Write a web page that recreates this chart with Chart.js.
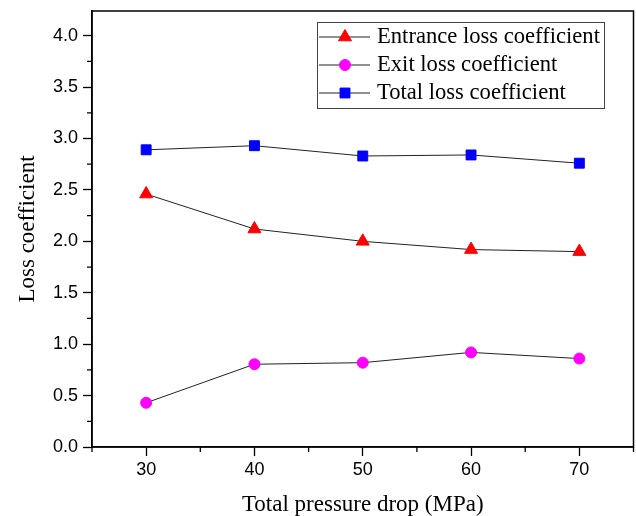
<!DOCTYPE html>
<html lang="en">
<head>
    <meta charset="UTF-8">
    <title>Loss coefficient</title>
    <script src="https://cdn.jsdelivr.net/npm/chart.js"></script>
    <style>
        html, body { margin: 0; background: #fff; overflow: hidden; }
        canvas { display: block; }
    </style>
</head>
<body>
    <!-- a little wider than the window: Chart.js keeps half of the last x label as right padding -->
    <canvas id="lossChart" width="642" height="516"></canvas>

<script>
    // data
    const pressureDrop = [30, 40, 50, 60, 70];
    const entranceLoss = [2.46, 2.12, 2.00, 1.92, 1.90];
    const exitLoss = [0.43, 0.805, 0.82, 0.92, 0.86];
    const totalLoss = [2.89, 2.93, 2.83, 2.84, 2.76];

    const xTicks = [30, 40, 50, 60, 70];
    const xMinorTicks = [25, 35, 45, 55, 65, 75];
    const yTicks = [0, 0.5, 1.0, 1.5, 2.0, 2.5, 3.0, 3.5, 4.0];
    const yMinorTicks = [0.25, 0.75, 1.25, 1.75, 2.25, 2.75, 3.25, 3.75];

    const seriesNames = ['Entrance loss coefficient', 'Exit loss coefficient', 'Total loss coefficient'];

    const tickFont = { family: 'Liberation Sans', size: 18 };
    const titleFont = { family: 'Liberation Serif', size: 23, lineHeight: 1 };

    function toPoints(values) {
        return pressureDrop.map((p, i) => ({ x: p, y: values[i] }));
    }

    function serie(label, values, color, style, radius) {
        return {
            label: label,
            data: toPoints(values),
            borderColor: '#222',
            borderWidth: 1,
            pointStyle: style,
            pointRadius: radius,
            pointBackgroundColor: color,
            pointBorderColor: color,
            pointBorderWidth: 1,
            legendColor: color
        };
    }

    const dados = {
        datasets: [
            serie(seriesNames[0], entranceLoss, '#ff0000', 'triangle', 7.5),
            serie(seriesNames[1], exitLoss, '#ff00ff', 'circle', 5.5),
            serie(seriesNames[2], totalLoss, '#0000ff', 'rect', 7)
        ]
    };

    // box around the plot, minor ticks and the legend in the corner
    const framePlugin = {
        id: 'frame',
        afterDraw(chart) {
            const ctx = chart.ctx;
            const a = chart.chartArea;
            const sx = chart.scales.x;
            const sy = chart.scales.y;
            ctx.save();
            ctx.strokeStyle = '#000';
            ctx.lineWidth = 1.5;
            ctx.strokeRect(a.left, a.top, a.right - a.left, a.bottom - a.top);

            ctx.lineWidth = 1.3;
            ctx.beginPath();
            xMinorTicks.forEach(v => {
                const px = sx.getPixelForValue(v);
                ctx.moveTo(px, a.bottom);
                ctx.lineTo(px, a.bottom + 5);
            });
            yMinorTicks.forEach(v => {
                const py = sy.getPixelForValue(v);
                ctx.moveTo(a.left, py);
                ctx.lineTo(a.left - 5, py);
            });
            ctx.stroke();

            // legend
            const box = { left: 317, top: 22, right: 604, bottom: 108 };
            ctx.fillStyle = '#fff';
            ctx.fillRect(box.left, box.top, box.right - box.left, box.bottom - box.top);
            ctx.strokeStyle = '#444';
            ctx.lineWidth = 1;
            ctx.strokeRect(box.left + 0.5, box.top + 0.5, box.right - box.left, box.bottom - box.top);

            ctx.font = '22.6px "Liberation Serif"';
            ctx.textBaseline = 'middle';
            chart.data.datasets.forEach((ds, i) => {
                const cy = 37 + i * 28;
                ctx.strokeStyle = '#222';
                ctx.lineWidth = 1;
                ctx.beginPath();
                ctx.moveTo(319, cy);
                ctx.lineTo(370, cy);
                ctx.stroke();
                ctx.fillStyle = ds.legendColor;
                ctx.strokeStyle = ds.legendColor;
                Chart.helpers.drawPoint(ctx, {
                    pointStyle: ds.pointStyle,
                    radius: ds.pointRadius,
                    rotation: 0,
                    borderWidth: 1
                }, 345, cy);
                ctx.fillStyle = '#000';
                ctx.fillText(ds.label, 377, cy);
            });
            ctx.restore();
        }
    };

    const config = {
        type: 'line',
        data: dados,
        options: {
            responsive: false,
            devicePixelRatio: 1,
            animation: false,
            layout: { padding: { left: 0, top: 11, right: 3, bottom: 0 } },
            plugins: {
                legend: { display: false },
                tooltip: { enabled: false }
            },
            scales: {
                x: {
                    type: 'linear',
                    min: 25,
                    max: 75,
                    afterBuildTicks: s => { s.ticks = xTicks.map(v => ({ value: v })); },
                    afterFit: s => { s.height = 69; },
                    ticks: { font: tickFont, color: '#000', padding: 3 },
                    grid: { drawOnChartArea: false, tickLength: 9, tickColor: '#000', tickWidth: 1.3 },
                    border: { color: '#000', width: 1.5 },
                    title: {
                        display: true,
                        text: 'Total pressure drop (MPa)',
                        font: titleFont,
                        color: '#000',
                        padding: { top: 0, bottom: 0 }
                    }
                },
                y: {
                    min: 0,
                    max: 4.24,
                    afterBuildTicks: s => { s.ticks = yTicks.map(v => ({ value: v })); },
                    afterFit: s => {
                        s.width = 92;
                        s.paddingTop = 0;
                        s.paddingBottom = 0;
                    },
                    ticks: {
                        font: tickFont,
                        color: '#000',
                        padding: 5,
                        callback: v => v.toFixed(1)
                    },
                    grid: { drawOnChartArea: false, tickLength: 9, tickColor: '#000', tickWidth: 1.3 },
                    border: { color: '#000', width: 1.5 },
                    title: {
                        display: true,
                        text: 'Loss coefficient',
                        font: titleFont,
                        color: '#000',
                        padding: { top: 16, bottom: 0 }
                    }
                }
            }
        },
        plugins: [framePlugin]
    };

    let myChart = new Chart(document.getElementById('lossChart'), config);
</script>
</body>
</html>
